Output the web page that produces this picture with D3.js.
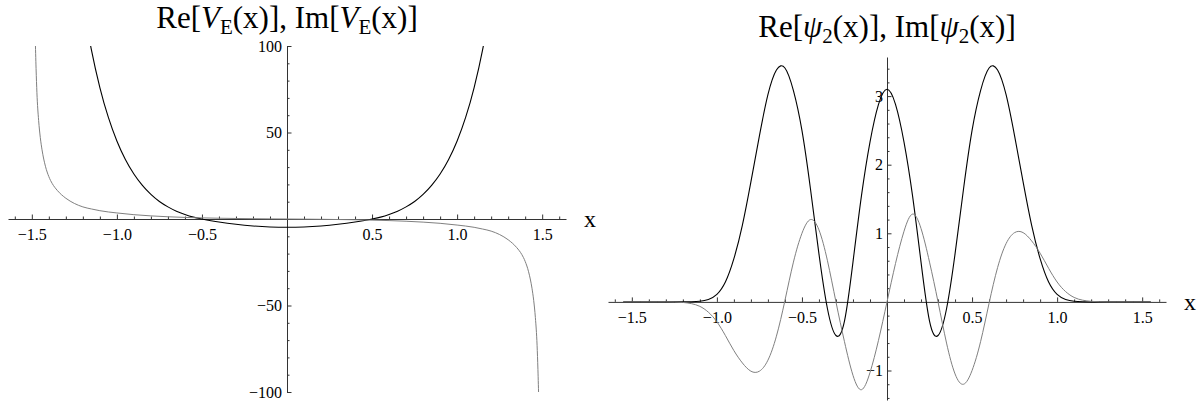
<!DOCTYPE html>
<html>
<head>
<meta charset="utf-8">
<script src="https://cdn.jsdelivr.net/npm/d3@7"></script>
<style>
  body { margin: 0; background: #fff; }
  svg { display: block; }
  text { font-family: "Liberation Serif", "Times New Roman", serif; fill: #000; }
</style>
</head>
<body>
<svg id="chart" width="1204" height="406"></svg>
<script>
// ---- left panel: Re / Im of the potential V_E(x) ----
var vReX = [-1.2,-1.15,-1.1,-1.05,-1.0,-0.95,-0.9,-0.85,-0.8,-0.75,-0.7,-0.65,-0.6,-0.55,-0.5,-0.4,-0.3,-0.2,-0.1,
            0,0.1,0.2,0.3,0.4,0.5,0.55,0.6,0.65,0.7,0.75,0.8,0.85,0.9,0.95,1.0,1.05,1.1,1.15,1.2];
var vRe  = [125.9,97.9,76.0,58.7,45.1,34.4,26.0,19.4,14.2,10.1,7.0,4.5,2.6,1.1,0,-1.73,-3.07,-4.03,-4.61,
            -4.8,-4.61,-4.03,-3.07,-1.73,0,1.1,2.6,4.5,7.0,10.1,14.2,19.4,26.0,34.4,45.1,58.7,76.0,97.9,125.9];

var vImX = [-1.485,-1.48,-1.475,-1.47,-1.46,-1.45,-1.44,-1.42,-1.4,-1.38,-1.35,-1.3,-1.25,-1.2,-1.15,-1.1,-1.0,-0.9,-0.8,-0.7,-0.6,-0.5,-0.4,-0.3,-0.2,-0.1,
            0,0.1,0.2,0.3,0.4,0.5,0.6,0.7,0.8,0.9,1.0,1.1,1.15,1.2,1.25,1.3,1.35,1.38,1.4,1.42,1.44,1.45,1.46,1.47,1.475,1.48,1.485];
var vIm  = [135,106,87,73,57,47,40,30.5,24.5,20.5,16.5,12.0,9.0,7.0,5.8,4.8,3.5,2.5,1.8,1.3,0.92,0.65,0.45,0.3,0.18,0.08,
            0,-0.08,-0.18,-0.3,-0.45,-0.65,-0.92,-1.3,-1.8,-2.5,-3.5,-4.8,-5.8,-7.0,-9.0,-12.0,-16.5,-20.5,-24.5,-30.5,-40,-47,-57,-73,-87,-106,-135];

// ---- right panel: Re / Im of psi_2(x), sampled every 0.05 ----
var psiX = [-1.55,-1.5,-1.45,-1.4,-1.35,-1.3,-1.25,-1.2,-1.15,-1.1,-1.05,-1.0,-0.95,-0.9,-0.85,-0.8,-0.75,-0.7,-0.65,-0.6,
            -0.55,-0.5,-0.45,-0.4,-0.35,-0.3,-0.25,-0.2,-0.15,-0.1,-0.05,
            0,0.05,0.1,0.15,0.2,0.25,0.3,0.35,0.4,0.45,0.5,0.55,0.6,0.65,0.7,0.75,0.8,0.85,0.9,0.95,
            1.0,1.05,1.1,1.15,1.2,1.25,1.3,1.35,1.4,1.45,1.5,1.55];
var psiRe = [0,0,0,0,0,0,0,0,0.002,0.009,0.035,0.11,0.29,0.63,1.12,1.75,2.42,3.02,3.38,3.41,
             3.08,2.50,1.65,0.70,-0.10,-0.49,-0.28,0.58,1.55,2.33,2.88,
             3.10,2.88,2.33,1.55,0.58,-0.28,-0.49,-0.10,0.70,1.65,2.50,3.08,3.41,3.38,3.02,2.42,1.75,1.12,0.63,0.29,
             0.11,0.035,0.009,0.002,0,0,0,0,0,0,0,0];
var psiIm = [0,0,0,0,0,0,-0.002,-0.008,-0.025,-0.065,-0.15,-0.29,-0.49,-0.71,-0.89,-1.01,-1.01,-0.85,-0.50,0.02,
             0.58,1.00,1.20,1.05,0.60,0,-0.58,-1.07,-1.28,-1.03,-0.56,
             0,0.56,1.03,1.28,1.07,0.58,0,-0.60,-1.05,-1.20,-1.00,-0.58,-0.02,0.50,0.85,1.01,1.01,0.89,0.71,0.49,
             0.29,0.15,0.065,0.025,0.008,0.002,0,0,0,0,0,0];

// tick values
var majorX = [-1.5,-1.0,-0.5,0.5,1.0,1.5];
var vMajorY = [-100,-50,50,100];
var psiMajorY = [-1,1,2,3];

var svg = d3.select("#chart");
svg.append("rect").attr("width", 1204).attr("height", 406).attr("fill", "#fff");

// minor tick positions between the labelled ones
function minorTicks(lo, hi, step, skip) {
  var out = [];
  for (var i = 0; lo + i * step <= hi + 1e-9; i++) {
    var r = Math.round((lo + i * step) * 1000) / 1000;
    if (Math.abs(r) < 1e-9) continue;
    if (skip.some(function(s) { return Math.abs(s - r) < 1e-9; })) continue;
    out.push(r);
  }
  return out;
}

function drawPanel(p) {
  var g = svg.append("g");
  var x = d3.scaleLinear().domain([-1.64, 1.64]).range(p.xRange);
  var y = d3.scaleLinear().domain(p.yDomain).range(p.yRange);

  // x axis: ticks pointing up, labels below
  var xa = g.append("g").attr("transform", "translate(0," + y(0) + ")");
  xa.call(d3.axisBottom(x).tickValues(majorX).tickSizeInner(-4.5).tickSizeOuter(0)
      .tickPadding(10).tickFormat(d3.format(".1f")));
  xa.append("g").call(d3.axisBottom(x).tickValues(minorTicks(-1.6, 1.6, 0.1, majorX))
      .tickSizeInner(-2.5).tickSizeOuter(0).tickFormat(""))
    .select(".domain").remove();

  // y axis: ticks pointing right, labels left
  var ya = g.append("g").attr("transform", "translate(" + x(0) + ",0)");
  ya.call(d3.axisLeft(y).tickValues(p.majorY).tickSizeInner(-4.5).tickSizeOuter(0)
      .tickPadding(p.yPad).tickFormat(d3.format("d")));
  ya.append("g").call(d3.axisLeft(y).tickValues(p.minorY)
      .tickSizeInner(-2.5).tickSizeOuter(0).tickFormat(""))
    .select(".domain").remove();

  g.selectAll(".domain, .tick line").attr("stroke", "#333").attr("stroke-width", 1);
  g.selectAll(".tick text").style("font-family", "'Liberation Serif', serif")
    .style("font-size", "16px").attr("fill", "#000");

  // clip curves to the plot range
  g.append("clipPath").attr("id", p.id)
    .append("rect").attr("x", p.xRange[0]).attr("y", p.yRange[1])
    .attr("width", p.xRange[1] - p.xRange[0]).attr("height", p.yRange[0] - p.yRange[1]);

  var line = d3.line().x(function(d) { return x(d[0]); }).y(function(d) { return y(d[1]); })
    .curve(p.curve);

  g.append("path").attr("clip-path", "url(#" + p.id + ")")
    .attr("d", line(d3.zip(p.reX, p.re)))
    .attr("fill", "none").attr("stroke", "#000").attr("stroke-width", 1.1);
  g.append("path").attr("clip-path", "url(#" + p.id + ")")
    .attr("d", line(d3.zip(p.imX, p.im)))
    .attr("fill", "none").attr("stroke", "#808080").attr("stroke-width", 1);

  // axis label
  g.append("text").attr("x", p.xRange[1] + 24).attr("y", y(0) + 8)
    .attr("text-anchor", "middle").style("font-size", "24px").text("x");

  // title  Re[V_E(x)], Im[V_E(x)]
  var t = g.append("text").attr("x", x(0)).attr("y", p.titleY)
    .attr("text-anchor", "middle").style("font-size", "31px");
  t.append("tspan").text("Re[");
  t.append("tspan").style("font-style", "italic").text(p.sym);
  t.append("tspan").style("font-size", "21px").attr("dy", 6).text(p.sub);
  t.append("tspan").attr("dy", -6).text("(x)], Im[");
  t.append("tspan").style("font-style", "italic").text(p.sym);
  t.append("tspan").style("font-size", "21px").attr("dy", 6).text(p.sub);
  t.append("tspan").attr("dy", -6).text("(x)]");
}

drawPanel({
  id: "clipL", xRange: [8, 566], yDomain: [-100, 100], yRange: [392, 46],
  majorY: vMajorY, minorY: minorTicks(-100, 100, 10, vMajorY), yPad: 5,
  reX: vReX, re: vRe, imX: vImX, im: vIm, curve: d3.curveMonotoneX,
  sym: "V", sub: "E", titleY: 28
});
drawPanel({
  id: "clipR", xRange: [608, 1166], yDomain: [-1.43, 3.57], yRange: [400, 57],
  majorY: psiMajorY, minorY: minorTicks(-1.4, 3.4, 0.2, psiMajorY), yPad: 4,
  reX: psiX, re: psiRe, imX: psiX, im: psiIm, curve: d3.curveNatural,
  sym: "\u03C8", sub: "2", titleY: 37
});
</script>
</body>
</html>
